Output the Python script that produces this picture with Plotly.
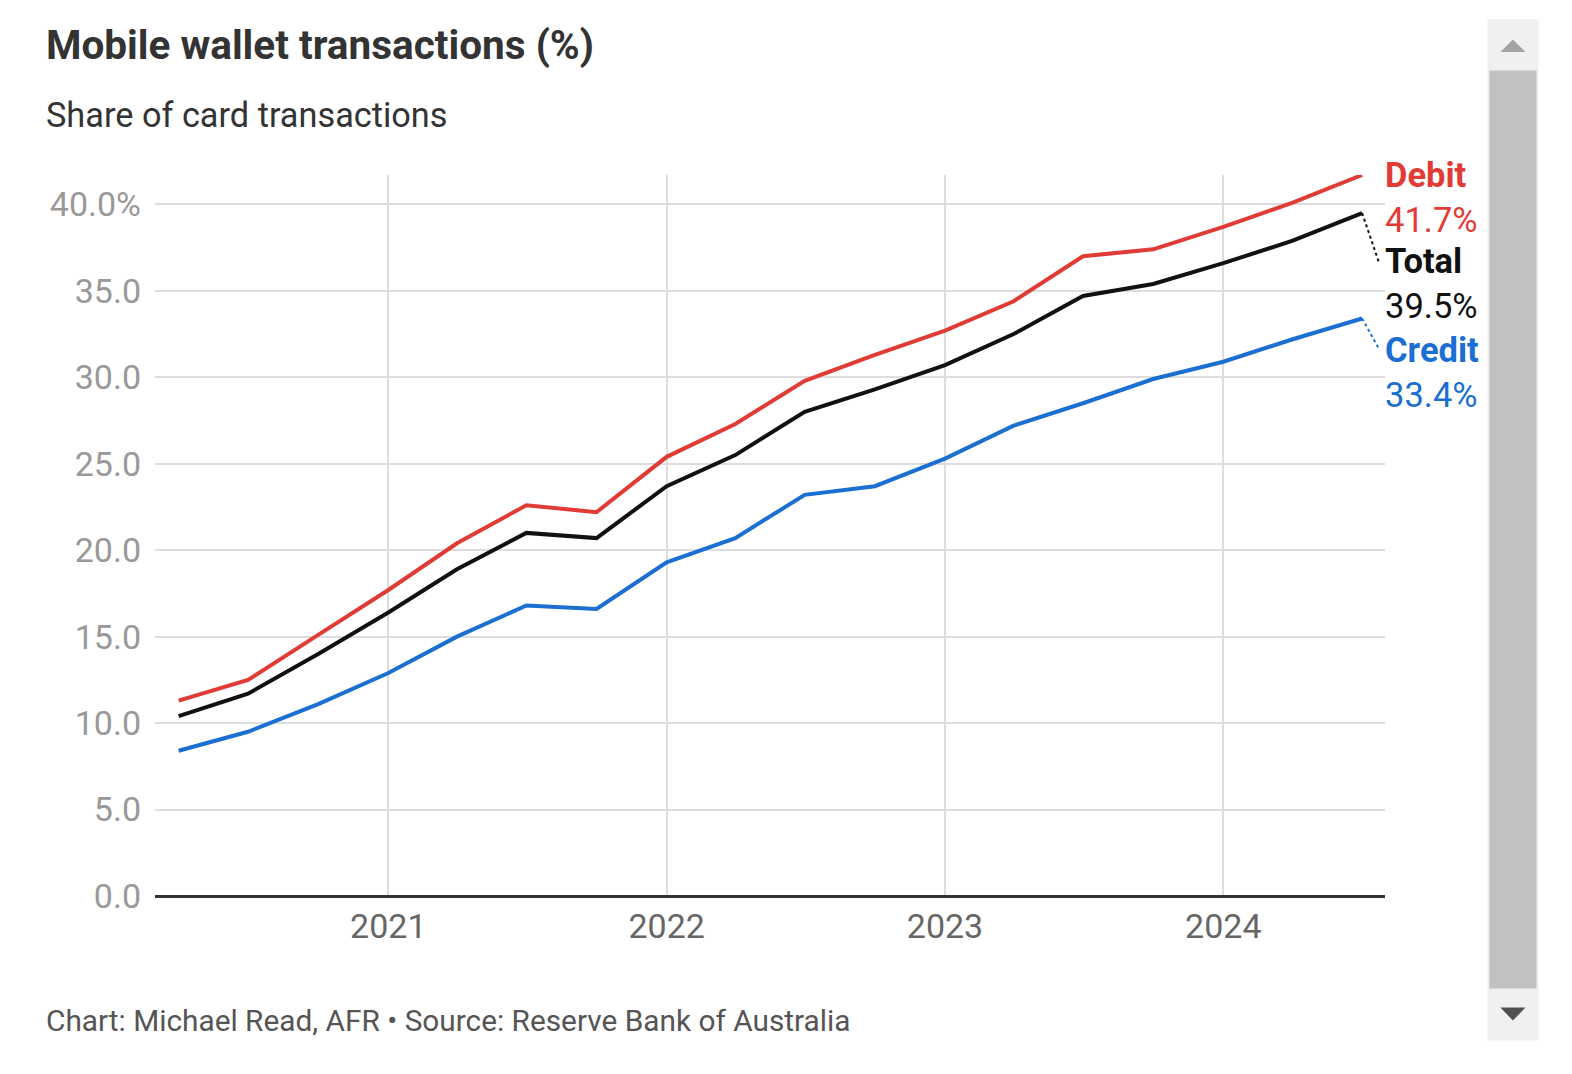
import plotly.graph_objects as go

dates = ["2020-04-01", "2020-07-01", "2020-10-01", "2021-01-01", "2021-04-01", "2021-07-01",
         "2021-10-01", "2022-01-01", "2022-04-01", "2022-07-01", "2022-10-01", "2023-01-01",
         "2023-04-01", "2023-07-01", "2023-10-01", "2024-01-01", "2024-04-01", "2024-07-01"]
debit = [11.3, 12.5, 15.1, 17.7, 20.4, 22.6, 22.2, 25.4, 27.3, 29.8, 31.3, 32.7,
         34.4, 37.0, 37.4, 38.7, 40.1, 41.7]
total = [10.4, 11.7, 14.0, 16.4, 18.9, 21.0, 20.7, 23.7, 25.5, 28.0, 29.3, 30.7,
         32.5, 34.7, 35.4, 36.6, 37.9, 39.5]
credit = [8.4, 9.5, 11.1, 12.9, 15.0, 16.8, 16.6, 19.3, 20.7, 23.2, 23.7, 25.3,
          27.2, 28.5, 29.9, 30.9, 32.2, 33.4]

ytick_vals = [0, 5, 10, 15, 20, 25, 30, 35, 40]
ytick_text = ["0.0", "5.0", "10.0", "15.0", "20.0", "25.0", "30.0", "35.0", "40.0%"]
xtick_vals = ["2021-01-01", "2022-01-01", "2023-01-01", "2024-01-01"]
xtick_text = ["2021", "2022", "2023", "2024"]

RED = "#e03c35"
BLACK = "#111111"
BLUE = "#1a6fd1"
FONT = "Roboto, Noto Sans, sans-serif"

fig = go.Figure()
for name, vals, col in [("Credit", credit, BLUE), ("Total", total, BLACK), ("Debit", debit, RED)]:
    fig.add_trace(go.Scatter(x=dates, y=vals, mode="lines", name=name,
                             line=dict(color=col, width=4), hoverinfo="skip"))

# dotted connectors from last points to labels
fig.add_shape(type="line", xref="x", yref="y", x0=dates[-1], y0=total[-1],
              x1="2024-07-23", y1=total[-1] - 2.85, line=dict(color=BLACK, width=2, dash="dot"))
fig.add_shape(type="line", xref="x", yref="y", x0=dates[-1], y0=credit[-1],
              x1="2024-07-23", y1=credit[-1] - 1.75, line=dict(color=BLUE, width=2, dash="dot"))

labels = [("Debit", debit[-1], RED, 40.4), ("Total", total[-1], BLACK, 35.45), ("Credit", credit[-1], BLUE, 30.25)]
for name, v, col, ypos in labels:
    fig.add_annotation(xref="paper", yref="y", x=1.0, y=ypos, xanchor="left", yanchor="middle",
                       xshift=-2, align="left", showarrow=False,
                       text=f"<b>{name}</b><br>{v:.1f}%",
                       font=dict(family=FONT, size=34.5, color=col))

# title, subtitle, footer
fig.add_annotation(xref="paper", yref="paper", x=-0.0881, y=1.1797, xanchor="left", yanchor="middle",
                   xshift=-3, showarrow=False, text="<b>Mobile wallet transactions (%)</b>",
                   font=dict(family=FONT, size=40.5, color="#333333"))
fig.add_annotation(xref="paper", yref="paper", x=-0.0881, y=1.0836, xanchor="left", yanchor="middle",
                   xshift=-3, showarrow=False, text="Share of card transactions",
                   font=dict(family=FONT, size=34.3, color="#333333"))
fig.add_annotation(xref="paper", yref="paper", x=-0.0881, y=-0.1727, xanchor="left", yanchor="middle",
                   xshift=-3, showarrow=False, text="Chart: Michael Read, AFR \u2022 Source: Reserve Bank of Australia",
                   font=dict(family=FONT, size=29.8, color="#555555"))

# scrollbar decoration (plot area spans x 155..1381, y 175..893 in pixels)
def px(x):
    return (x - 155) / 1226
def py(y):
    return (893 - y) / 718
fig.add_shape(type="rect", xref="paper", yref="paper", x0=px(1483), x1=px(1534), y0=py(1037), y1=py(20),
              fillcolor="#f0f0f0", line=dict(width=0), layer="below")
fig.add_shape(type="rect", xref="paper", yref="paper", x0=px(1485), x1=px(1532), y0=py(985), y1=py(71),
              fillcolor="#c1c1c1", line=dict(width=0), layer="below")
fig.add_shape(type="path", xref="paper", yref="paper",
              path=f"M {px(1496)} {py(52.5)} L {px(1521)} {py(52.5)} L {px(1508.5)} {py(40)} Z",
              fillcolor="#a3a3a3", line=dict(width=0))
fig.add_shape(type="path", xref="paper", yref="paper",
              path=f"M {px(1496)} {py(1004)} L {px(1521)} {py(1004)} L {px(1508.5)} {py(1017)} Z",
              fillcolor="#505050", line=dict(width=0))

fig.update_layout(
    width=1572, height=1074,
    margin=dict(l=147, r=195, t=167, b=186),
    paper_bgcolor="white", plot_bgcolor="white",
    showlegend=False,
    font=dict(family=FONT),
    xaxis=dict(type="date", range=["2020-03-01", "2024-07-31"],
               tickvals=xtick_vals, ticktext=xtick_text,
               showgrid=True, gridcolor="#dddddd", gridwidth=2,
               showline=False, zeroline=False, ticks="", ticklen=0,
               ticklabelstandoff=7,
               tickfont=dict(family=FONT, size=34, color="#666666")),
    yaxis=dict(range=[0, 41.7], tickvals=ytick_vals, ticktext=ytick_text,
               showgrid=True, gridcolor="#dddddd", gridwidth=2,
               zeroline=True, zerolinecolor="#333333", zerolinewidth=3,
               showline=False, ticks="", ticklabelstandoff=13,
               tickfont=dict(family=FONT, size=34, color="#999999")),
)

fig.write_html("out.html")
